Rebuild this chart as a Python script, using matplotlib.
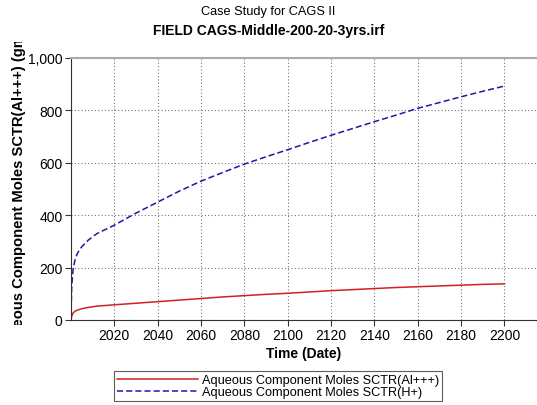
import matplotlib.pyplot as plt
from matplotlib.ticker import FuncFormatter
from matplotlib.transforms import Bbox, TransformedBbox

plt.rcParams['font.family'] = ['Liberation Sans', 'DejaVu Sans']

# years (decimal) and values
years = [2000.0, 2000.3, 2000.7, 2001.0, 2001.5, 2002, 2003, 2005, 2008, 2012, 2020,
         2030, 2040, 2050, 2060, 2070, 2080, 2090, 2100, 2110, 2120, 2130, 2140,
         2150, 2160, 2170, 2180, 2190, 2200]
h_plus = [0, 120, 170, 195, 215, 235, 255, 280, 305, 330, 362,
          408, 450, 492, 530, 563, 595, 623, 650, 678, 705, 731, 757,
          782, 808, 830, 852, 873, 893]
al_plus3 = [0, 14, 22, 27, 31, 34, 38, 43, 48, 53, 58,
            64, 70, 76, 82, 88, 93, 98, 102, 107, 112, 116, 120,
            124, 127, 130, 133, 136, 138]

xticks = list(range(2020, 2201, 20))
yticks = [0, 200, 400, 600, 800, 1000]

W, H = 537, 406
fig = plt.figure(figsize=(W / 100, H / 100), dpi=100)
ax = fig.add_axes([71 / W, 1 - 321 / H, 1 - 71 / W, 262 / H])

ax.plot(years, al_plus3, color='#d42020', linewidth=1.1,
        label='Aqueous Component Moles SCTR(Al+++)')
ax.plot(years, h_plus, color='#1a1aa8', linewidth=1.1, linestyle=(0, (4, 2)),
        label='Aqueous Component Moles SCTR(H+)')

ax.set_xlim(2000, 2215)
ax.set_ylim(0, 1000)
ax.set_xticks(xticks)
ax.set_yticks(yticks)
ax.yaxis.set_major_formatter(FuncFormatter(lambda v, p: f'{int(v):,}'))
ax.tick_params(labelsize=10, length=4, color='#333333', pad=2)
ax.grid(True, linestyle=(0, (1, 2)), color='#777777', linewidth=0.8)

ax.spines['right'].set_visible(False)
ax.spines['top'].set_color('#aaaaaa')
ax.spines['top'].set_linewidth(1.5)
ax.spines['left'].set_color('#333333')
ax.spines['bottom'].set_color('#333333')

ax.set_xlabel('Time (Date)', fontsize=10, fontweight='bold', labelpad=3)

# y label is clipped to a band like in the original software export
ylab = fig.text(19 / W, 1 - 181.5 / H, 'Aqueous Component Moles SCTR(Al+++) (gmole)',
                rotation=90, ha='center', va='center', fontsize=10.6,
                fontweight='bold')
clip = TransformedBbox(Bbox([[0, 1 - 326 / H], [70 / W, 1 - 43 / H]]),
                       fig.transFigure)
ylab.set_clip_box(clip)
ylab.set_clip_on(True)

fig.text(0.5, 1 - 12 / H, 'Case Study for CAGS II', ha='center', va='center',
         fontsize=9.2)
fig.text(0.5, 1 - 31 / H, 'FIELD CAGS-Middle-200-20-3yrs.irf', ha='center',
         va='center', fontsize=10, fontweight='bold')

leg = fig.legend(loc='upper left', bbox_to_anchor=(114 / W, 1 - 372 / H),
                 fontsize=9.2, frameon=True, fancybox=False, borderpad=0.25,
                 borderaxespad=0, labelspacing=0.0, handlelength=6.3,
                 handletextpad=0.3)
leg.get_frame().set_edgecolor('#333333')
leg.get_frame().set_linewidth(0.8)

fig.savefig('out.png', dpi=100)
